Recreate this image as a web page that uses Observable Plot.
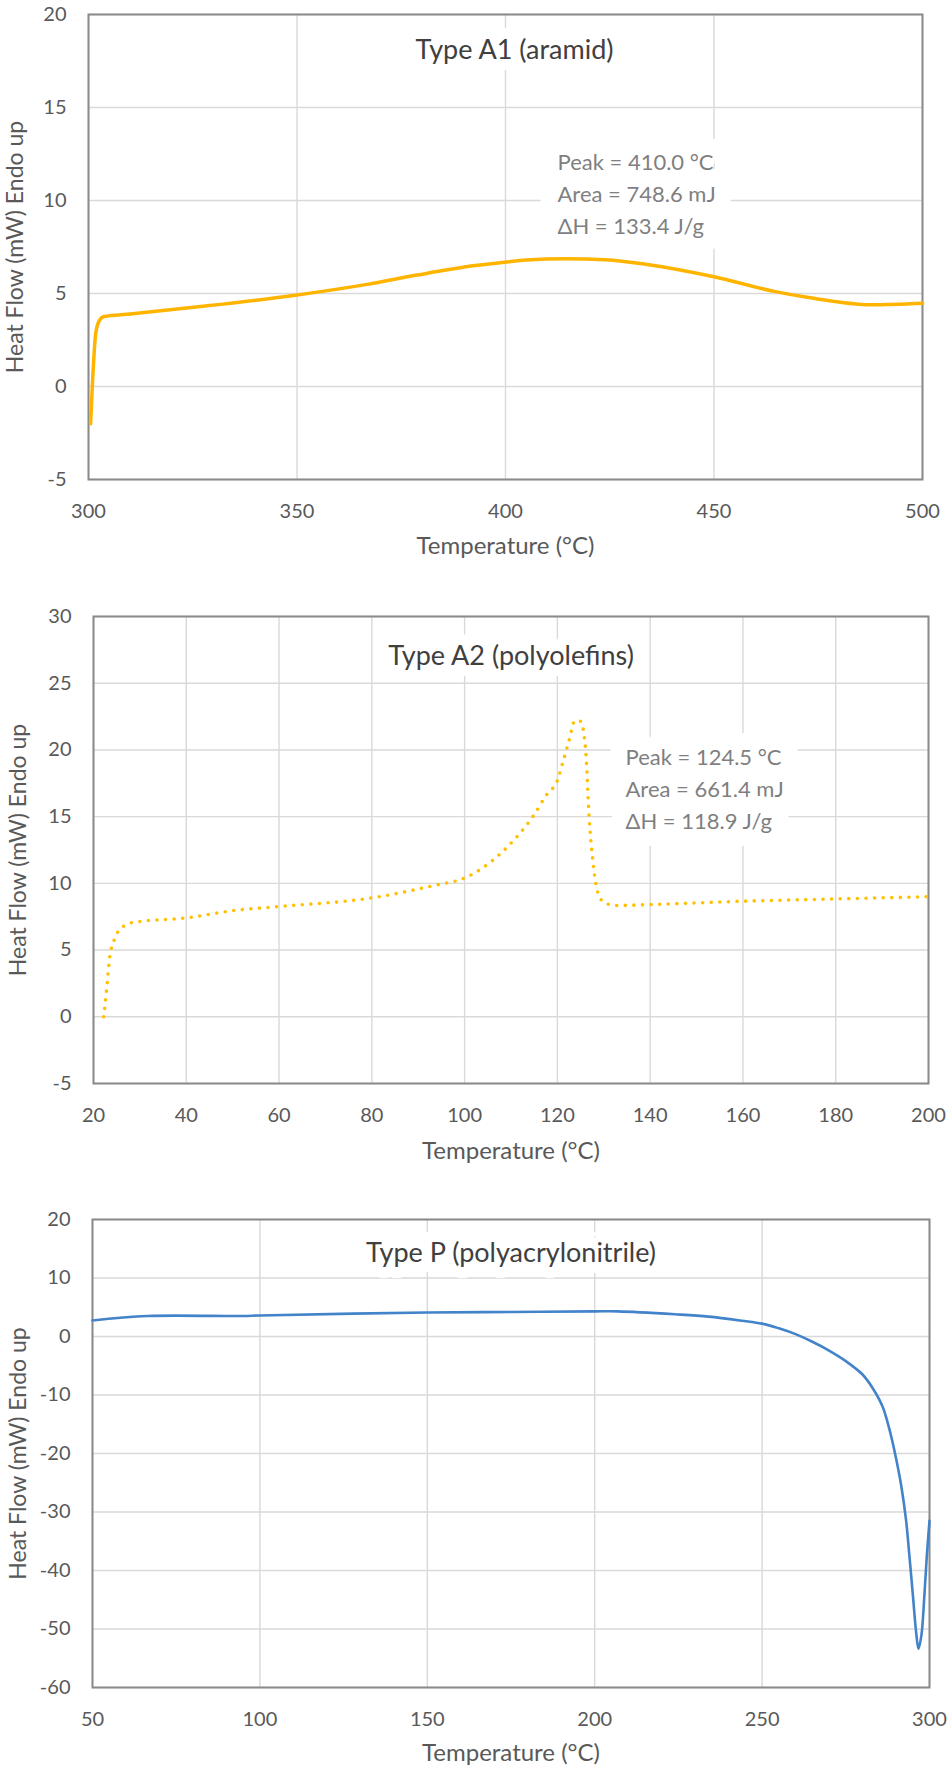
<!DOCTYPE html>
<html><head><meta charset="utf-8">
<script src="https://cdn.jsdelivr.net/npm/d3@7"></script>
<script src="https://cdn.jsdelivr.net/npm/@observablehq/plot@0.6"></script>
<style>
body{margin:0;background:#fff;}
#charts svg{display:block;}
</style></head><body><div id="charts"></div>
<script>
// ---- Data: Type A1 (aramid)
const a1Temp = [300.5, 301.0, 301.7, 302.5, 303.7, 310, 326.9, 350, 366.8, 378.8, 392.8, 399.8, 405, 414.4, 424, 434.4, 450, 464.7, 472.7, 487.9, 500];
const a1Flow = [-2.0, 0.4, 2.8, 3.5, 3.76, 3.9, 4.3, 4.92, 5.49, 5.99, 6.5, 6.68, 6.8, 6.87, 6.82, 6.55, 5.9, 5.1, 4.78, 4.39, 4.47];
const a1XTicks = [300, 350, 400, 450, 500];
const a1YTicks = [-5, 0, 5, 10, 15, 20];

// ---- Data: Type A2 (polyolefins)
const a2Temp = [22.2, 22.8, 23.5, 24.4, 26.2, 28.7, 40, 50.2, 60, 80, 93.4, 100, 102.4, 109.5, 114.6, 117.8, 120, 121.2, 122.5, 123.8, 125, 126.1, 126.8, 127.7, 128.6, 130, 132.6, 140, 160, 180, 200];
const a2Flow = [0.0, 1.95, 4.46, 5.7, 6.7, 7.08, 7.41, 7.96, 8.26, 8.91, 9.84, 10.4, 10.83, 12.83, 14.95, 16.7, 17.7, 19.1, 20.7, 22.2, 22.15, 19.95, 15.2, 11.5, 9.46, 8.59, 8.34, 8.41, 8.66, 8.83, 9.0];
const a2XTicks = [20, 40, 60, 80, 100, 120, 140, 160, 180, 200];
const a2YTicks = [-5, 0, 5, 10, 15, 20, 25, 30];

// ---- Data: Type P (polyacrylonitrile)
const pTemp = [50, 66.4, 95, 100, 150, 175, 200, 207, 224, 234, 244, 250, 255, 260, 265, 270, 275, 280, 283, 286, 288, 290, 291.5, 293, 294, 295, 296, 296.7, 297.6, 298.5, 299.2, 300];
const pFlow = [2.74, 3.5, 3.5, 3.6, 4.1, 4.2, 4.3, 4.3, 3.8, 3.4, 2.7, 2.2, 1.4, 0.4, -0.9, -2.4, -4.2, -6.5, -8.8, -12.0, -15.8, -20.8, -25.3, -31.4, -37.5, -44.0, -50.5, -53.4, -51.0, -44.0, -37.5, -31.5];
const pXTicks = [50, 100, 150, 200, 250, 300];
const pYTicks = [-60, -50, -40, -30, -20, -10, 0, 10, 20];

// ---- Texts
const titles = ["Type A1 (aramid)", "Type A2 (polyolefins)", "Type P (polyacrylonitrile)"];
const a1Notes = ["Peak = 410.0 °C", "Area = 748.6 mJ", "ΔH = 133.4 J/g"];
const a2Notes = ["Peak = 124.5 °C", "Area = 661.4 mJ", "ΔH = 118.9 J/g"];
const xLabel = "Temperature (°C)";
const yLabel = "Heat Flow (mW) Endo up";

function chart(c) {
  const rows = c.temp.map((t, i) => ({t, v: c.flow[i]}));
  const marks = [
    Plot.gridX(c.xTicks, {stroke: "#d9d9d9", strokeOpacity: 1, strokeWidth: 1.4}),
    Plot.gridY(c.yTicks, {stroke: "#d9d9d9", strokeOpacity: 1, strokeWidth: 1.4}),
    Plot.frame({stroke: "#8a8a8a", strokeWidth: 2}),
    Plot.text([c.title], {frameAnchor: "top", textAnchor: "middle", dx: c.titleDx, dy: c.titleDy, lineAnchor: "middle",
      fontSize: 27, fill: "#404040", stroke: "white", strokeWidth: 22, strokeLinejoin: "round"}),
    Plot.text([xLabel], {frameAnchor: "bottom", textAnchor: "middle", dy: c.xLabelDy, lineAnchor: "middle", fontSize: 24, fill: "#595959"}),
    Plot.text([yLabel], {frameAnchor: "left", textAnchor: "middle", dx: c.yLabelDx, rotate: -90, lineAnchor: "middle", fontSize: 23, fill: "#595959"})
  ];
  if (c.notes) {
    marks.push(Plot.text([c.notes.join("\n")], {frameAnchor: "top-left", dx: c.noteDx, dy: c.noteDy,
      textAnchor: "start", lineAnchor: "middle", lineHeight: 1.455, fontSize: 22, fill: "#7f7f7f",
      stroke: "white", strokeWidth: 34, strokeLinejoin: "round"}));
  }
  marks.push(Plot.line(rows, {x: "t", y: "v", curve: c.curve, stroke: c.color, strokeWidth: c.lineWidth,
    strokeDasharray: c.dash, strokeLinecap: "round", strokeLinejoin: "round"}));
  return Plot.plot({
    width: 950, height: c.height,
    marginTop: c.mt, marginBottom: c.mb, marginLeft: c.ml, marginRight: c.mr,
    style: {fontFamily: "Lato, sans-serif", fontSize: "20px", color: "#595959", background: "white"},
    x: {domain: c.xDomain, ticks: c.xTicks, tickSize: 0, tickPadding: 24, tickFormat: d => String(d), label: null},
    y: {domain: c.yDomain, ticks: c.yTicks, tickSize: 0, tickPadding: 22, tickFormat: d => String(d), label: null},
    marks
  });
}

const host = document.getElementById("charts");
host.append(chart({
  temp: a1Temp, flow: a1Flow, xTicks: a1XTicks, yTicks: a1YTicks, xDomain: [300, 500], yDomain: [-5, 20],
  title: titles[0], notes: a1Notes, color: "#FFB400", lineWidth: 3.5, dash: null, curve: "monotone-x",
  height: 580, mt: 14, mb: 101, ml: 88, mr: 28,
  titleDx: 9, titleDy: 36, xLabelDy: 67, yLabelDx: -72.5, noteDx: 469, noteDy: 177
}));
host.append(chart({
  temp: a2Temp, flow: a2Flow, xTicks: a2XTicks, yTicks: a2YTicks, xDomain: [20, 200], yDomain: [-5, 30],
  title: titles[1], notes: a2Notes, color: "#FFC000", lineWidth: 3.6, dash: "0 8.6", curve: "monotone-x",
  height: 600, mt: 36, mb: 97, ml: 93, mr: 22,
  titleDx: 0, titleDy: 40, xLabelDy: 68, yLabelDx: -75, noteDx: 532, noteDy: 170
}));
host.append(chart({
  temp: pTemp, flow: pFlow, xTicks: pXTicks, yTicks: pYTicks, xDomain: [50, 300], yDomain: [-60, 20],
  title: titles[2], notes: null, color: "#4383CA", lineWidth: 2.6, dash: null, curve: "catmull-rom",
  height: 590, mt: 39, mb: 83, ml: 92, mr: 21,
  titleDx: 0, titleDy: 34, xLabelDy: 66, yLabelDx: -74
}));
</script></body></html>
